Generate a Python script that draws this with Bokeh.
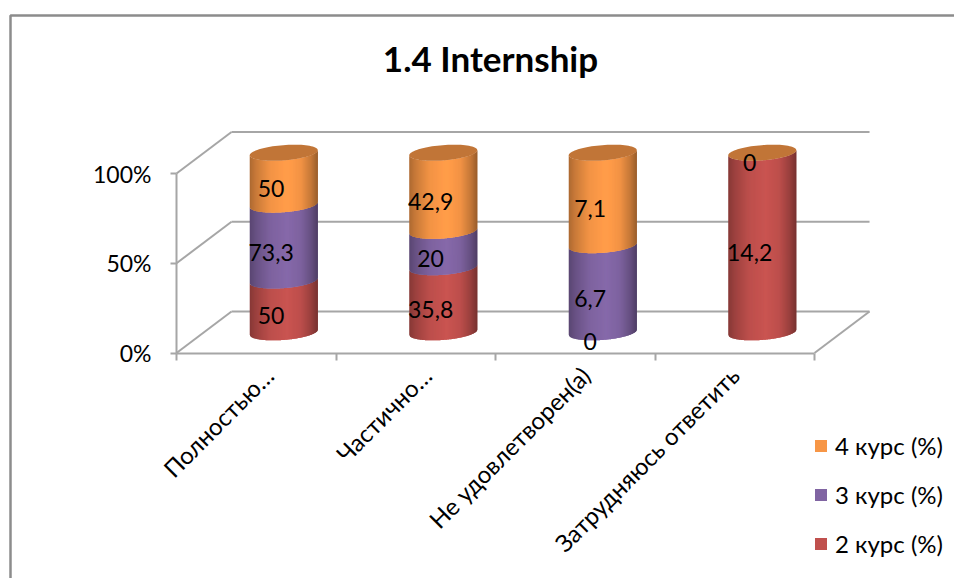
import numpy as np
from bokeh.core.properties import value
from bokeh.embed import file_html
from bokeh.models import (ColumnDataSource, FixedTicker, Legend, LegendItem, LinearAxis, Range1d)
from bokeh.plotting import figure
from bokeh.resources import INLINE

categories = ["Полностью…", "Частично…", "Не удовлетворен(а)", "Затрудняюсь ответить"]
series_names = ["2 курс (%)", "3 курс (%)", "4 курс (%)"]
course_2 = [50, 35.8, 0, 14.2]
course_3 = [73.3, 20, 6.7, None]
course_4 = [50, 42.9, 7.1, 0]
colors = ["#C0504D", "#8064A2", "#F79646"]
value_ticks = [0, 50, 100]
chart_title = "1.4 Internship"

WIDTH, HEIGHT = 954, 578
FONT = "Lato"
LABEL_SIZE = "23px"
NAME_SIZE = "24px"
LEGEND_SIZE = "24px"
GRID = "#A6A6A6"

# Pixel layout of the plot box: one category and one percent in pixels.
ORIGIN_X, ORIGIN_Y = 176, 352.5
PX_CAT, PX_PCT = 159.5, 1.795


def data_x(px):
    return (px - ORIGIN_X) / PX_CAT


def data_y(py):
    return (ORIGIN_Y - py) / PX_PCT


# Oblique projection of the chart's depth axis, in data units per unit of depth.
DEPTH_X = 0.345
DEPTH_Y = 23.1
RADIUS_X = 0.2025   # cylinder radius along the category axis
RADIUS_D = 0.195    # cylinder radius along the depth axis
LABEL_DEPTH = 0.27


def shade(hex_color, factor):
    rgb = [int(hex_color[i:i + 2], 16) for i in (1, 3, 5)]
    return "#%02x%02x%02x" % tuple(int(min(255, round(c * factor))) for c in rgb)


def front_curve(center, u):
    """Front edge of the cylinder's circle; u runs 0..1 left to right on screen."""
    theta = np.arccos(1 - 2 * u)
    a = RADIUS_D * DEPTH_X
    t0 = np.arctan2(a, RADIUS_X)
    t = t0 + np.pi + theta
    dx = RADIUS_X * np.cos(t) + a * np.sin(t)
    dv = RADIUS_D * DEPTH_Y * np.sin(t)
    return center + 0.5 * DEPTH_X + dx, 0.5 * DEPTH_Y + dv


def full_circle(center):
    t = np.linspace(0, 2 * np.pi, 80)
    a = RADIUS_D * DEPTH_X
    dx = RADIUS_X * np.cos(t) + a * np.sin(t)
    dv = RADIUS_D * DEPTH_Y * np.sin(t)
    return center + 0.5 * DEPTH_X + dx, 0.5 * DEPTH_Y + dv


p = figure(width=WIDTH, height=HEIGHT, output_backend="svg", toolbar_location=None,
           x_range=Range1d(data_x(0), data_x(WIDTH)), y_range=Range1d(data_y(HEIGHT), data_y(0)),
           min_border=0, x_axis_type=None, y_axis_type=None, background_fill_color="white",
           border_fill_color="white", outline_line_color=None)
p.grid.visible = False

# Value axis, on the chart's front left edge.
y_axis = LinearAxis(ticker=FixedTicker(ticks=value_ticks), bounds=(0, 100), fixed_location=0,
                    major_label_overrides={v: f"{v}%" for v in value_ticks})
y_axis.axis_line_color = GRID
y_axis.axis_line_width = 2
y_axis.major_tick_line_color = GRID
y_axis.major_tick_line_width = 2
y_axis.major_tick_in = 0
y_axis.major_tick_out = 6
y_axis.minor_tick_line_color = None
y_axis.major_label_text_font = FONT
y_axis.major_label_text_font_size = LABEL_SIZE
y_axis.major_label_text_color = "black"
y_axis.major_label_standoff = 19
p.add_layout(y_axis, "left")

# Category boundaries: tick marks only.
x_axis = LinearAxis(ticker=FixedTicker(ticks=list(range(len(categories) + 1))),
                    bounds=(0, len(categories)), fixed_location=0,
                    major_label_overrides={i: "" for i in range(len(categories) + 1)})
x_axis.axis_line_color = GRID
x_axis.axis_line_width = 2
x_axis.major_tick_line_color = GRID
x_axis.major_tick_line_width = 2
x_axis.major_tick_in = 0
x_axis.major_tick_out = 7
x_axis.minor_tick_line_color = None
p.add_layout(x_axis, "below")

# Category names, slanted, under the middle of each category.
name_positions = [0.58, 1.57, 2.565, 3.50]
name_axis = LinearAxis(ticker=FixedTicker(ticks=name_positions), fixed_location=0,
                       major_label_overrides=dict(zip(name_positions, categories)))
name_axis.axis_line_color = None
name_axis.major_tick_line_color = None
name_axis.minor_tick_line_color = None
name_axis.major_label_orientation = np.pi / 4
name_axis.major_label_text_font = FONT
name_axis.major_label_text_font_size = NAME_SIZE
name_axis.major_label_text_color = "black"
name_axis.major_label_standoff = 12
p.add_layout(name_axis, "below")

# Back wall gridlines, wall and floor diagonals.
n = len(categories)
p.segment(x0=[DEPTH_X] * 3, x1=[n + DEPTH_X] * 3,
          y0=[v + DEPTH_Y for v in value_ticks], y1=[v + DEPTH_Y for v in value_ticks],
          line_color=GRID, line_width=2)
p.segment(x0=[0] * 3, x1=[DEPTH_X] * 3, y0=value_ticks,
          y1=[v + DEPTH_Y for v in value_ticks], line_color=GRID, line_width=2)
p.segment(x0=[n], x1=[n + DEPTH_X], y0=[0], y1=[DEPTH_Y], line_color=GRID, line_width=2)

# Cylinder sides: vertical strips carrying the horizontal shading. Each strip runs on
# under its right-hand neighbour so that no seams show between them.
STRIPS = 68
edges = np.linspace(0, 1, STRIPS + 1)
rows = list(zip(course_2, course_3, course_4))
strip_x, strip_y, strip_c = [], [], []
label_x, label_y, label_t = [], [], []
for i, row in enumerate(rows):
    nums = [0 if v is None else v for v in row]
    total = sum(nums)
    cum = 0
    for s, raw in enumerate(nums):
        low = cum / total * 100
        cum += raw
        high = cum / total * 100
        if row[s] is not None:
            label_x.append(i + 0.5 + LABEL_DEPTH * DEPTH_X)
            label_y.append((low + high) / 2 + LABEL_DEPTH * DEPTH_Y)
            label_t.append(str(raw).replace(".", ","))
        if high <= low:
            continue
        for k in range(STRIPS):
            u = np.linspace(edges[k], edges[min(k + 2, STRIPS)], 5)
            xs, vs = front_curve(i + 0.5, u)
            strip_x.append(np.concatenate([xs, xs[::-1]]))
            strip_y.append(np.concatenate([vs + low, (vs + high)[::-1]]))
            f = np.interp(edges[k] + 0.5 / STRIPS,
                          [0, 0.1, 0.3, 0.55, 0.75, 0.9, 1],
                          [0.70, 0.82, 0.98, 1.05, 0.98, 0.80, 0.62])
            strip_c.append(shade(colors[s], f))

p.patches(xs=strip_x, ys=strip_y, fill_color=strip_c, line_color=None)

# Top caps.
cap_x, cap_y = [], []
for i in range(n):
    cx, cv = full_circle(i + 0.5)
    cap_x.append(cx)
    cap_y.append(cv + 100)
p.patches(xs=cap_x, ys=cap_y, fill_color=shade(colors[2], 0.78), line_color=None)

p.text(x="x", y="y", text="t", source=ColumnDataSource(dict(x=label_x, y=label_y, t=label_t)),
       text_font=value(FONT), text_font_size=LABEL_SIZE, text_color="black",
       text_align="center", text_baseline="middle")

p.text(x=[data_x(490)], y=[data_y(57)], text=[chart_title], text_font=value(FONT),
       text_font_size="35px", text_font_style="bold", text_color="black",
       text_align="center", text_baseline="middle")

# Chart area border, running off the page at the right and bottom.
p.line(x=[data_x(10), data_x(10), data_x(WIDTH)], y=[data_y(HEIGHT), data_y(15), data_y(15)],
       line_color="#8C8C8C", line_width=2.5)

# Legend, with the latest course first. The keys have no drawn marks of their own.
nan = float("nan")
keys = [p.quad(left=[nan], right=[nan], top=[nan], bottom=[nan], fill_color=c, line_color=None)
        for c in colors]
legend = Legend(items=[LegendItem(label=series_names[s], renderers=[keys[s]]) for s in (2, 1, 0)],
                location=(813, 20), orientation="vertical", glyph_width=15, glyph_height=15,
                label_text_font=FONT, label_text_font_size=LEGEND_SIZE, label_text_color="black",
                label_standoff=7, spacing=20, padding=0, margin=0,
                background_fill_alpha=0, border_line_color=None)
p.add_layout(legend, "center")

open("out.html", "w").write(file_html(p, INLINE))
